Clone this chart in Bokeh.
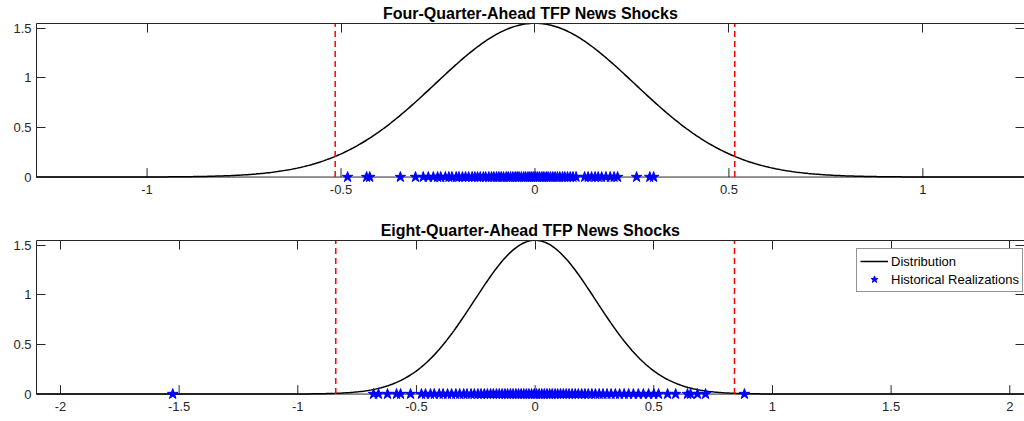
import numpy as np
from bokeh.plotting import figure
from bokeh.layouts import column
from bokeh.models import (Range1d, LinearAxis, FixedTicker, Title,
                          Legend, LegendItem, ColumnDataSource)
from bokeh.embed import file_html
from bokeh.resources import INLINE

# Normal densities fitted to the news shocks
mu_4q, sigma_4q = 0.0, 0.257
mu_8q, sigma_8q = 0.0, 0.257

# Critical bands (dashed red lines)
band_4q = [-0.515, 0.515]
band_8q = [-0.84, 0.84]

# Historical realizations of the shocks
news_4q = [-0.483, -0.434, -0.426, -0.347, -0.308, -0.288, -0.275, -0.262, -0.251,
           -0.243, -0.231, -0.222, -0.214, -0.203, -0.196, -0.187, -0.179, -0.171,
           -0.162, -0.155, -0.148, -0.141, -0.133, -0.127, -0.119, -0.112, -0.106,
           -0.099, -0.093, -0.087, -0.081, -0.074, -0.069, -0.063, -0.057, -0.051,
           -0.046, -0.041, -0.035, -0.029, -0.024, -0.018, -0.013, -0.008, -0.003,
           0.002, 0.007, 0.012, 0.018, 0.023, 0.029, 0.034, 0.040, 0.046, 0.052,
           0.058, 0.064, 0.071, 0.077, 0.084, 0.091, 0.098, 0.106, 0.128, 0.137,
           0.146, 0.155, 0.163, 0.172, 0.183, 0.194, 0.204, 0.213, 0.262, 0.296, 0.306]
news_8q = [-1.527, -0.681, -0.660, -0.622, -0.584, -0.567, -0.525, -0.479, -0.462,
           -0.441, -0.425, -0.404, -0.388, -0.369, -0.352, -0.334, -0.318, -0.301,
           -0.287, -0.270, -0.256, -0.241, -0.228, -0.214, -0.201, -0.188, -0.176,
           -0.163, -0.151, -0.139, -0.127, -0.116, -0.104, -0.093, -0.081, -0.070,
           -0.059, -0.048, -0.037, -0.026, -0.015, -0.004, 0.006, 0.017, 0.028,
           0.039, 0.050, 0.061, 0.072, 0.084, 0.095, 0.107, 0.119, 0.131, 0.143,
           0.156, 0.169, 0.182, 0.196, 0.210, 0.224, 0.239, 0.254, 0.270, 0.286,
           0.303, 0.320, 0.338, 0.356, 0.375, 0.394, 0.414, 0.435, 0.456, 0.478,
           0.500, 0.520, 0.558, 0.592, 0.642, 0.655, 0.684, 0.718, 0.882]

xticks_4q = [-1, -0.5, 0, 0.5, 1]
xticks_8q = [-2, -1.5, -1, -0.5, 0, 0.5, 1, 1.5, 2]
yticks = [0, 0.5, 1, 1.5]
ytick_labels = ["0", "0.5", "1", "1.5"]
y_top = 1.55
y_floor = -0.055   # room below zero so markers on the axis stay whole
tick_len = 0.09    # inward tick length of the zero-line axis, in data units

titles = ["Four-Quarter-Ahead TFP News Shocks", "Eight-Quarter-Ahead TFP News Shocks"]

FONT = "Liberation Sans"
AXC = "#262626"


def fmt(v):
    return "%g" % v


def panel(title, xlim, xticks, mu, sigma, band, news, top_border, bottom_border, height,
          legend=False):
    p = figure(width=1024, height=height, output_backend="svg", toolbar_location=None,
               x_range=Range1d(*xlim), y_range=Range1d(y_floor, y_top),
               min_border_left=36, min_border_right=0,
               min_border_top=top_border, min_border_bottom=bottom_border,
               x_axis_location=None, y_axis_location=None)
    p.grid.visible = False
    p.outline_line_color = None
    p.background_fill_color = "white"
    p.border_fill_color = "white"

    def style(ax, labels):
        ax.major_tick_in = 9
        ax.major_tick_out = 0
        ax.minor_tick_line_color = None
        ax.axis_line_color = AXC
        ax.major_tick_line_color = AXC
        ax.major_label_text_font = FONT
        ax.major_label_text_font_size = "13px" if labels else "0px"
        ax.major_label_text_color = AXC
        ax.major_label_standoff = 6 if labels else 0

    # x tick labels sit under the frame; the axis line itself is drawn at y = 0
    bx = LinearAxis(ticker=FixedTicker(ticks=xticks),
                    major_label_overrides={t: fmt(t) for t in xticks})
    style(bx, True)
    bx.axis_line_color = None
    bx.major_tick_line_color = None
    bx.major_label_standoff = 2
    p.add_layout(bx, "below")
    ax_top = LinearAxis(ticker=FixedTicker(ticks=xticks))
    style(ax_top, False)
    p.add_layout(ax_top, "above")
    ly = LinearAxis(ticker=FixedTicker(ticks=yticks), bounds=(0, y_top),
                    major_label_overrides=dict(zip(yticks, ytick_labels)))
    style(ly, True)
    ly.major_label_standoff = 5
    p.add_layout(ly, "left")
    ry = LinearAxis(ticker=FixedTicker(ticks=yticks), bounds=(0, y_top))
    style(ry, False)
    p.add_layout(ry, "right")

    # zero-line axis with inward ticks
    p.line(list(xlim), [0, 0], line_color=AXC, line_width=1)
    p.segment(x0=xticks, y0=[0] * len(xticks), x1=xticks, y1=[tick_len] * len(xticks),
              line_color=AXC, line_width=1)

    xs = np.linspace(xlim[0], xlim[1], 600)
    pdf = np.exp(-0.5 * ((xs - mu) / sigma) ** 2) / (sigma * np.sqrt(2 * np.pi))
    curve = p.line(xs, pdf, line_color="black", line_width=1.5)

    for b in band:
        p.segment(x0=[b], y0=[0], x1=[b], y1=[y_top], line_color="#ff0000",
                  line_width=1.5, line_dash="6 4")

    src = ColumnDataSource(dict(x=news, y=[0] * len(news)))
    stars = p.scatter("x", "y", source=src, marker="star", size=11,
                      fill_color="#0000ff", line_color="#0000ff")

    p.add_layout(Title(text=title, align="center", offset=7, standoff=3,
                       text_font=FONT, text_font_size="16px",
                       text_font_style="bold", text_color="black"), "above")

    if legend:
        leg = Legend(items=[LegendItem(label="Distribution", renderers=[curve]),
                            LegendItem(label="Historical Realizations", renderers=[stars])],
                     location=(820, 107), orientation="vertical",
                     label_text_font=FONT, label_text_font_size="13px",
                     label_text_color="black", label_standoff=3,
                     glyph_width=28, glyph_height=18, label_height=18,
                     spacing=0, padding=3, margin=0,
                     border_line_color=AXC, border_line_width=1,
                     background_fill_color="white", background_fill_alpha=1)
        p.add_layout(leg, "center")
    return p


top = panel(titles[0], (-1.285, 1.262), xticks_4q, mu_4q, sigma_4q, band_4q, news_4q,
            23, 28, 210)
bot = panel(titles[1], (-2.101, 2.062), xticks_8q, mu_8q, sigma_8q, band_8q, news_8q,
            30, 22, 211, legend=True)

layout = column(top, bot, spacing=0)
open("out.html", "w").write(file_html(layout, INLINE))
